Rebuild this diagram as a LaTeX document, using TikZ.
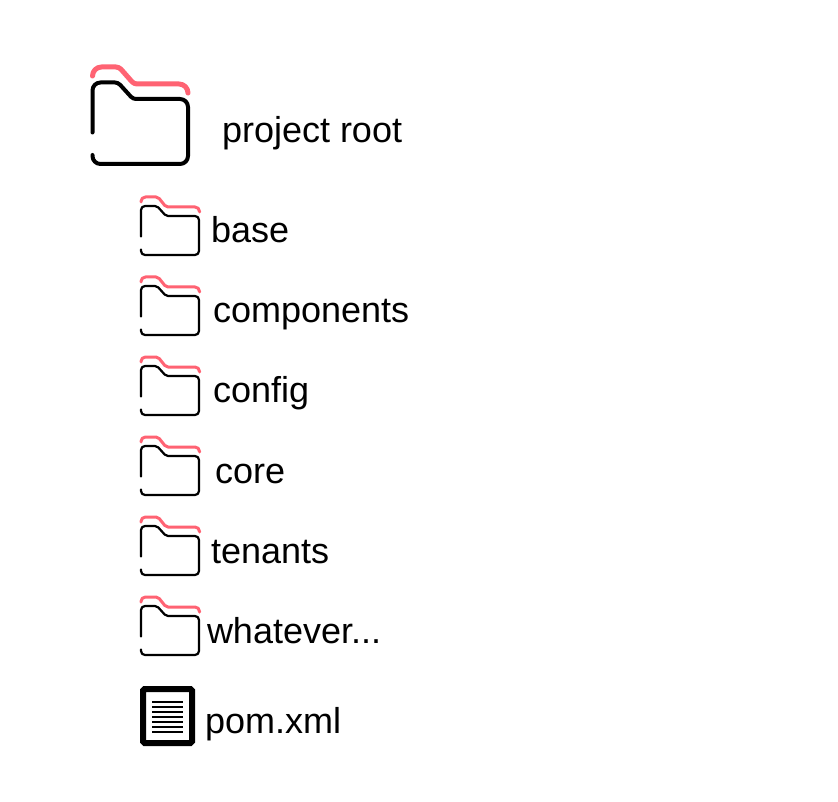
\documentclass[tikz,border=0pt]{standalone}
\usepackage{fontspec}
\setmainfont{Liberation Sans}
\definecolor{tabred}{HTML}{FF6373}
\tikzset{
  lbl/.style={anchor=base west,inner sep=0pt,outer sep=0pt,text=black,font=\fontsize{36}{40}\selectfont},
  smallblack/.style={draw=black,line width=2.2pt,line cap=round,line join=round},
  smallred/.style={draw=tabred,line width=3pt,line cap=round,line join=round},
  bigblack/.style={draw=black,line width=4pt,line cap=round,line join=round},
  bigred/.style={draw=tabred,line width=5pt,line cap=round,line join=round},
  smallfolder/.pic={
    \draw[smallblack] (141,39.5) [rounded corners=4pt] -- (141,9) [rounded corners=2pt] -- (157,9) -- (166,19) [rounded corners=4pt] -- (199,19) -- (199,58) -- (141,58) -- (141,52.5);
    \draw[smallred] (141,5) [rounded corners=4.5pt] -- (141,0) [rounded corners=2pt] -- (158,0) -- (166,10) [rounded corners=4.5pt] -- (199.5,10) -- (199.5,15);
  }
}
\begin{document}
\begin{tikzpicture}[x=1pt,y=-1pt]
\useasboundingbox (0,0) rectangle (838,802);
\fill[white] (0,0) rectangle (838,802);
% project root
\draw[bigblack] (92.5,132.5) [rounded corners=8pt] -- (92.5,82.5) [rounded corners=3pt] -- (118,82.5) -- (133,99) [rounded corners=8pt] -- (188,99) -- (188,164) -- (92.5,164) -- (92.5,155);
\draw[bigred] (92.5,76) [rounded corners=9pt] -- (92.5,67) [rounded corners=3pt] -- (119,67) -- (134,84) [rounded corners=9pt] -- (188,84) -- (188,93);
\node[lbl] (root) at (222,143) {project root};
% folders
\pic at (0,197) {smallfolder};
\pic at (0,277) {smallfolder};
\pic at (0,357) {smallfolder};
\pic at (0,437) {smallfolder};
\pic at (0,517) {smallfolder};
\pic at (0,597) {smallfolder};
\node[lbl] (base) at (211,243) {base};
\node[lbl] (components) at (213,323) {components};
\node[lbl] (config) at (213,402.5) {config};
\node[lbl] (core) at (215,483) {core};
\node[lbl] (tenants) at (211,563) {tenants};
\node[lbl] (whatever) at (207,643) {whatever...};
% file
\draw[black,line width=6pt,rounded corners=1.5pt] (143,689) rectangle (192,743);
\foreach \yy in {702,707,712,717,722,727,732}
  \draw[black,line width=2.2pt] (152,\yy) -- (183,\yy);
\node[lbl] (pom) at (205,733) {pom.xml};
\end{tikzpicture}
\end{document}
